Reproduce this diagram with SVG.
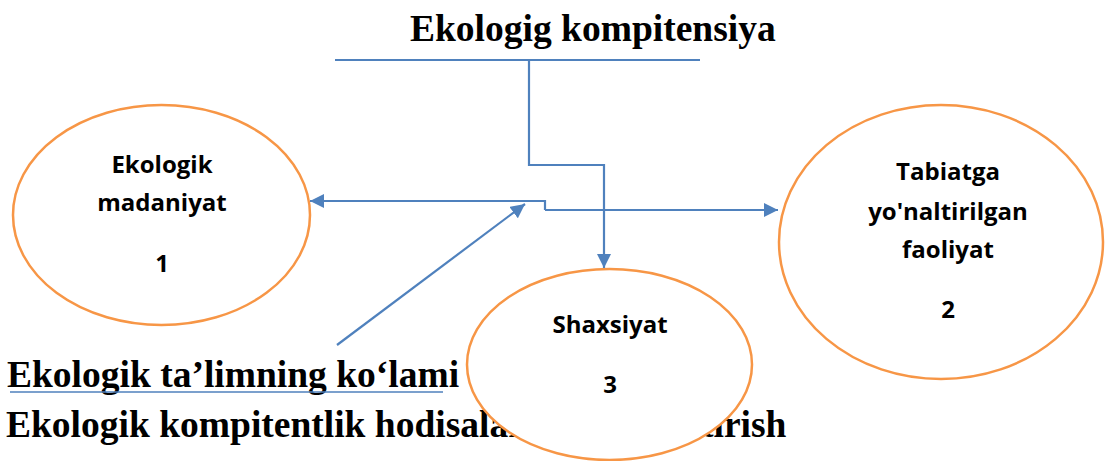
<svg xmlns="http://www.w3.org/2000/svg" width="1105" height="461" viewBox="0 0 1105 461">
<defs>
<style>
.big{font-family:"Liberation Serif","Times New Roman",serif;font-weight:bold;font-size:37.5px;fill:#000}
.lbl{font-family:"Open Sans","Noto Sans",sans-serif;font-weight:bold;font-size:24px;fill:#000;text-anchor:middle}
.node{fill:#fff;stroke:#F79646;stroke-width:2.5}
.conn{fill:none;stroke:#4F81BD;stroke-width:2.2}
</style>
<marker id="ah" viewBox="0 0 10 10" refX="10" refY="5" markerWidth="6.5" markerHeight="6.5" markerUnits="strokeWidth" orient="auto">
<path d="M0,0 L10,5 L0,10 z" fill="#4F81BD"/>
</marker>
</defs>
<rect width="1105" height="461" fill="#fff"/>
<g id="title">
<text class="big" x="410" y="41">Ekologig kompitensiya</text>
</g>
<g id="bottom-text">
<text class="big" x="7" y="387">Ekologik ta’limning ko‘lami</text>
<line x1="10" y1="392" x2="443" y2="392" stroke="#4F81BD" stroke-width="1.5"/>
<text class="big" x="6" y="437">Ekologik kompitentlik hodisalarni shakllantirish</text>
</g>
<g id="connectors">
<line class="conn" x1="335" y1="60" x2="700" y2="60" stroke-width="1.8"/>
<polyline class="conn" points="529,60 529,165 604,165 604,268" marker-end="url(#ah)"/>
<polyline class="conn" points="545,210 545,201 310,201" marker-end="url(#ah)"/>
<polyline class="conn" points="545,210 778,210" marker-end="url(#ah)"/>
<line class="conn" x1="337" y1="345" x2="525" y2="204" marker-end="url(#ah)"/>
</g>
<g id="node1">
<ellipse class="node" cx="161.5" cy="215" rx="148.5" ry="110"/>
<text class="lbl" x="162" y="173">Ekologik</text>
<text class="lbl" x="162" y="211">madaniyat</text>
<text class="lbl" x="162" y="272">1</text>
</g>
<g id="node2">
<ellipse class="node" cx="941" cy="242" rx="162" ry="137"/>
<text class="lbl" x="948" y="180">Tabiatga</text>
<text class="lbl" x="948" y="220">yo'naltirilgan</text>
<text class="lbl" x="948" y="258">faoliyat</text>
<text class="lbl" x="948" y="318">2</text>
</g>
<g id="node3">
<ellipse class="node" cx="609.5" cy="364.5" rx="142.5" ry="95.5"/>
<text class="lbl" x="610" y="333">Shaxsiyat</text>
<text class="lbl" x="610" y="393">3</text>
</g>
</svg>
